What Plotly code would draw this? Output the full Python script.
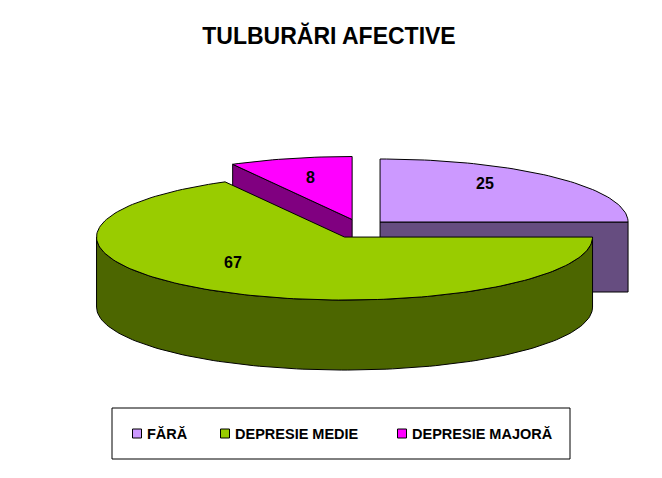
import math
import plotly.graph_objects as go

# ---------------- data ----------------
categories = ["FĂRĂ", "DEPRESIE MEDIE", "DEPRESIE MAJORĂ"]
values = [25, 67, 8]
top_colors = ["#CC99FF", "#99CC00", "#FF00FF"]
side_colors = ["#664D80", "#4C6600", "#800080"]
title_text = "TULBURĂRI AFECTIVE"

# ---------------- geometry / style (pixels) ----------------
W, H = 662, 478
CX, CY = 359.4, 228.8        # pie centre (before explosion)
RX, RY = 248.0, 63.0         # ellipse radii of the top face
DEPTH = 70.0                 # thickness of the pie
EXPL_X, EXPL_Y = 29.2, 9.6   # explosion offsets
LABEL_FRAC = [(0.60, 0.875), (0.887, 0.46), (0.68, 0.69)]
FONT = "Liberation Sans, Arial, sans-serif"


def pt(ax, ay, ang, dy=0.0):
    r = math.radians(ang)
    return ax + RX * math.sin(r), ay - RY * math.cos(r) + dy


def arc(ax, ay, a0, a1, dy=0.0, n=None):
    if n is None:
        n = max(2, int(abs(a1 - a0) / 1.5) + 1)
    xs, ys = [], []
    for i in range(n + 1):
        a = a0 + (a1 - a0) * i / n
        x, y = pt(ax, ay, a, dy)
        xs.append(x)
        ys.append(y)
    return xs, ys


total = sum(values)
slices = []
start = 0.0
for i, v in enumerate(values):
    sweep = 360.0 * v / total
    end = start + sweep
    mid = (start + end) / 2
    rm = math.radians(mid)
    ax = CX + EXPL_X * math.sin(rm)
    ay = CY - EXPL_Y * math.cos(rm)
    slices.append(dict(i=i, s=start, e=end, mid=mid, ax=ax, ay=ay))
    start = end

fig = go.Figure()


def poly(xs, ys, color):
    fig.add_trace(go.Scatter(
        x=xs + [xs[0]], y=ys + [ys[0]], mode="lines", fill="toself",
        fillcolor=color, line=dict(color="black", width=1),
        hoverinfo="skip", showlegend=False))


# painter's order: back slices first
order = sorted(slices, key=lambda d: -math.cos(math.radians(d["mid"])))
for sl in order:
    i, s, e, ax, ay = sl["i"], sl["s"], sl["e"], sl["ax"], sl["ay"]
    # cut faces
    for ang, nrm in ((s, s - 90), (e, e + 90)):
        if math.cos(math.radians(nrm)) < -1e-6:
            x1, y1 = pt(ax, ay, ang)
            poly([ax, x1, x1, ax], [ay, y1, y1 + DEPTH, ay + DEPTH], side_colors[i])
    # front rim
    for off in (0, 360, -360):
        lo = max(s, 90 + off)
        hi = min(e, 270 + off)
        if hi > lo:
            tx, ty = arc(ax, ay, lo, hi)
            bx, by = arc(ax, ay, hi, lo, DEPTH)
            poly(tx + bx, ty + by, side_colors[i])
    # top face
    tx, ty = arc(ax, ay, s, e)
    poly([ax] + tx, [ay] + ty, top_colors[i])

# value labels
annotations = []
for sl in slices:
    i = sl["i"]
    fx, fy = LABEL_FRAC[i]
    r = math.radians(sl["mid"])
    annotations.append(dict(
        x=sl["ax"] + fx * RX * math.sin(r), y=sl["ay"] - fy * RY * math.cos(r),
        xref="x", yref="y", text=str(values[i]), showarrow=False,
        font=dict(family=FONT, size=16, color="black", weight="bold")))

# legend (box, swatches, labels)
LEG_BOX = (112, 408, 570, 459)
LEG_SWATCH_X = [137, 225, 402]
LEG_Y = 433.5
shapes = [dict(type="rect", xref="x", yref="y", x0=LEG_BOX[0], y0=LEG_BOX[1],
               x1=LEG_BOX[2], y1=LEG_BOX[3], line=dict(color="black", width=1),
               fillcolor="white", layer="below")]
for i, name in enumerate(categories):
    sx = LEG_SWATCH_X[i]
    shapes.append(dict(type="rect", xref="x", yref="y", x0=sx - 4.5, x1=sx + 4.5,
                       y0=LEG_Y - 4.5, y1=LEG_Y + 4.5, fillcolor=top_colors[i],
                       line=dict(color="black", width=1)))
    annotations.append(dict(x=sx + 8, y=LEG_Y, xref="x", yref="y", text=name,
                            showarrow=False, xanchor="left", yanchor="middle",
                            font=dict(family=FONT, size=14.5, color="black", weight="bold")))

fig.update_layout(
    width=W, height=H,
    margin=dict(l=0, r=0, t=0, b=0),
    paper_bgcolor="white", plot_bgcolor="white",
    title=dict(text=title_text, x=329 / W, xanchor="center", y=1 - 36 / H,
               yanchor="middle",
               font=dict(family=FONT, size=23, color="black", weight="bold")),
    xaxis=dict(range=[0, W], visible=False, fixedrange=True),
    yaxis=dict(range=[H, 0], visible=False, fixedrange=True),
    shapes=shapes, annotations=annotations, showlegend=False,
)

fig.write_html("out.html", config={"displayModeBar": False},
               post_script="document.body.style.margin='0';")
